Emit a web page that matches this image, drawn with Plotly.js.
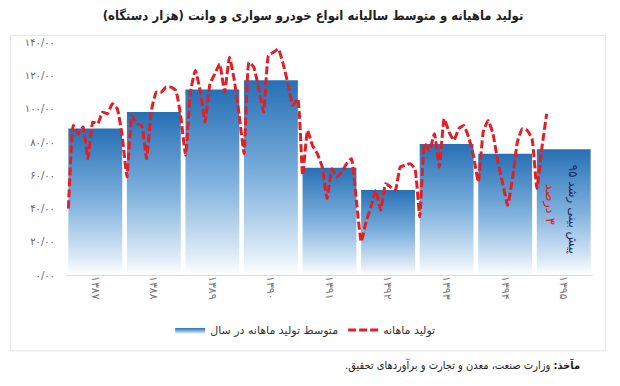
<!DOCTYPE html>
<html>
<head>
<meta charset="utf-8">
<script src="https://cdn.plot.ly/plotly-3.0.1.min.js"></script>
<style>html,body{margin:0;padding:0;background:#fff;}#chart{width:620px;height:386px;}</style>
</head>
<body>
<div id="chart"></div>
<script>
// ---- data ----
var years = ['۱۳۸۷','۱۳۸۸','۱۳۸۹','۱۳۹۰','۱۳۹۱','۱۳۹۲','۱۳۹۳','۱۳۹۴','۱۳۹۵'];
var yearAverage = [88.2, 98.1, 111.6, 117.2, 64.6, 51.2, 78.8, 73.0, 75.6];
var m1387 = [40, 90, 85, 89, 70, 92, 91, 98, 97, 103, 100, 84];
var m1388 = [59, 96, 91, 90, 70, 99, 110, 110, 113, 113, 111, 96];
var m1389 = [72, 110, 123, 111, 92, 115, 121, 127, 110, 131, 117, 96];
var m1390 = [73, 128, 125, 112, 98, 132, 134, 136, 127, 115, 102, 106];
var m1391 = [60, 87, 78, 73, 65, 46, 64, 59, 62, 67, 70, 45];
var m1392 = [20, 32, 41, 51, 39, 55, 53, 51, 65, 66, 67, 64];
var m1393 = [35, 79, 75, 85, 65, 94, 86, 81, 88, 90, 83, 72];
var m1394 = [56, 86, 93, 85, 68, 55, 42, 58, 80, 88, 87, 82];
var m1395 = [52, 76, 97];
var yTickVals = [0, 20, 40, 60, 80, 100, 120, 140];
var yTickText = ['۰/۰۰','۲۰/۰۰','۴۰/۰۰','۶۰/۰۰','۸۰/۰۰','۱۰۰/۰۰','۱۲۰/۰۰','۱۴۰/۰۰'];
var nameAvg = 'متوسط تولید ماهانه در سال';
var nameMonthly = 'تولید ماهانه';

// ---- build ----
var RLM = '\u200F';
function rtl(s) { return RLM + s + RLM; }
var FA = 'DejaVu Sans, Noto Sans, sans-serif';
var FAC = 'DejaVu Sans Condensed, DejaVu Sans, sans-serif';
var months = [m1387, m1388, m1389, m1390, m1391, m1392, m1393, m1394, m1395];
var traces = [];
var half = 0.46;
yearAverage.forEach(function (v, i) {
  traces.push({
    type: 'scatter', mode: 'lines',
    x: [i - half, i + half, i + half, i - half, i - half],
    y: [0, 0, v, v, 0],
    fill: 'toself',
    fillgradient: {type: 'vertical', colorscale: [[0, '#ffffff'], [0.12, '#dbe9f6'], [0.5, '#7fb1de'], [1, '#2770b5']]},
    line: {width: 0, color: '#2770b5'},
    name: rtl(nameAvg), legendgroup: 'avg', showlegend: i === 0, hoverinfo: 'skip'
  });
});
var mx = [], my = [];
months.forEach(function (arr, i) {
  arr.forEach(function (v, j) { mx.push(i - 0.5 + (j + 0.5) / 12); my.push(v); });
});
traces.push({
  type: 'scatter', mode: 'lines', x: mx, y: my, name: rtl(nameMonthly),
  line: {color: '#e41e26', width: 3, dash: '8px,3px', shape: 'spline', smoothing: 0.4}
});

var W = 620, H = 386, ml = 65.7, mr = 26.7, mt = 33.7, mb = 111;
var pw = W - ml - mr, ph = H - mt - mb;
function px2x(p) { return (p - ml) / pw; }
function px2y(p) { return (H - mb - p) / ph; }

var layout = {
  width: W, height: H,
  margin: {l: ml, r: mr, t: mt, b: mb, pad: 0},
  paper_bgcolor: '#ffffff', plot_bgcolor: '#ffffff',
  showlegend: true,
  xaxis: {
    range: [-0.5, 8.5], tickvals: [0,1,2,3,4,5,6,7,8], ticktext: years,
    tickangle: 90, showgrid: false, zeroline: false, showline: false, ticks: '',
    tickfont: {family: FA, size: 11, color: '#777'}, fixedrange: true
  },
  yaxis: {
    range: [0, 145], tickvals: yTickVals, ticktext: yTickText,
    showgrid: false, zeroline: true, zerolinecolor: '#dcdcdc', zerolinewidth: 1,
    showline: false, ticks: '', ticklabelstandoff: 10,
    tickfont: {family: FA, size: 10, color: '#666'}, fixedrange: true
  },
  legend: {
    orientation: 'h', x: px2x(170), xanchor: 'left', y: px2y(330), yanchor: 'middle',
    font: {family: FA, size: 11, color: '#333'}, bgcolor: 'rgba(0,0,0,0)'
  },
  title: {
    text: '<b>' + rtl('تولید ماهیانه و متوسط سالیانه انواع خودرو سواری و وانت (هزار دستگاه)') + '</b>',
    font: {family: FAC, size: 13, color: '#222'},
    x: 313 / W, xanchor: 'center', y: 1 - 15 / H, yanchor: 'middle'
  },
  shapes: [{
    type: 'rect', xref: 'paper', yref: 'paper',
    x0: px2x(10), x1: px2x(606), y0: px2y(351), y1: px2y(35),
    line: {color: '#e2e2e2', width: 1}, fillcolor: 'rgba(0,0,0,0)', layer: 'below'
  }],
  annotations: [
    {x: 8.15, y: 39.7, xref: 'x', yref: 'y', text: rtl('پیش بینی رشد ۹۵'), textangle: 90,
     showarrow: false, font: {family: FA, size: 12, color: '#1a2a5a'}},
    {x: 7.76, y: 42.5, xref: 'x', yref: 'y', text: rtl('۳ درصد'), textangle: 90,
     showarrow: false, font: {family: FA, size: 13, color: '#e41e26'}},
    {x: px2x(582), y: px2y(366), xref: 'paper', yref: 'paper', xanchor: 'right', yanchor: 'middle',
     text: '<b>' + RLM + 'مآخذ:' + RLM + '</b> وزارت صنعت، معدن و تجارت و برآوردهای تحقیق.' + RLM, showarrow: false,
     font: {family: FAC, size: 11, color: '#222'}}
  ]
};
Plotly.newPlot('chart', traces, layout, {displayModeBar: false, staticPlot: true});
</script>
</body>
</html>
